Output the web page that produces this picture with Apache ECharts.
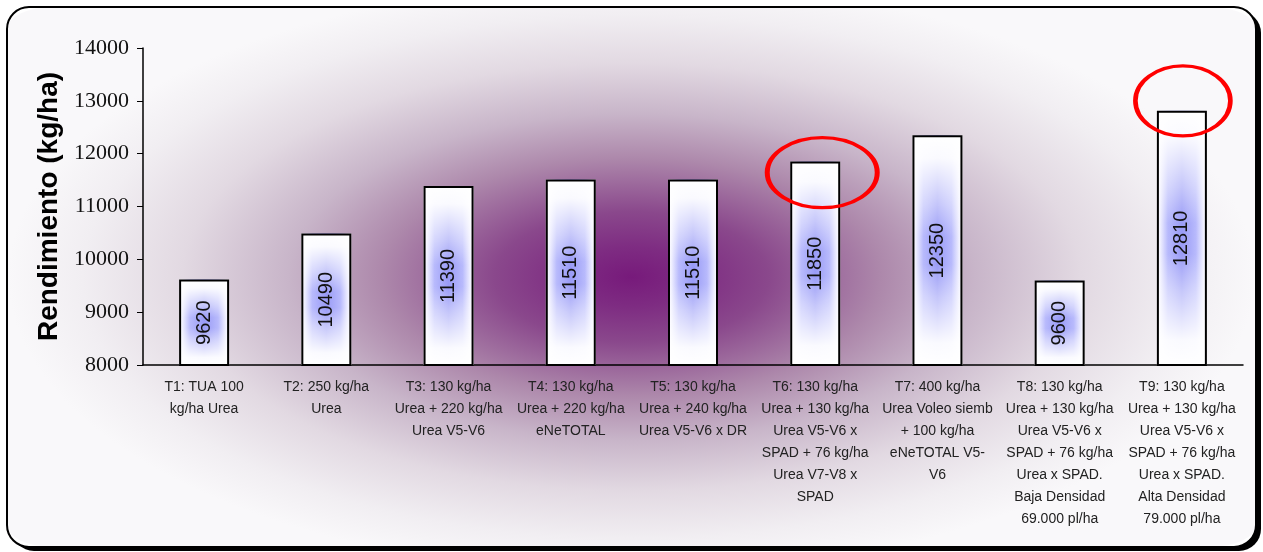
<!DOCTYPE html>
<html>
<head>
<meta charset="utf-8">
<title>Rendimiento por tratamiento</title>
<script src="https://cdn.jsdelivr.net/npm/echarts@6/dist/echarts.min.js"></script>
<style>
  html, body { margin: 0; padding: 0; background: #fff; }
  #chart { width: 1263px; height: 552px; }
</style>
</head>
<body>
<div id="chart"></div>
<script>
// treatments (x axis), one label line per row as in the original
const treatments = [
  'T1: TUA 100\nkg/ha Urea',
  'T2: 250 kg/ha\nUrea',
  'T3: 130 kg/ha\nUrea + 220 kg/ha\nUrea V5-V6',
  'T4: 130 kg/ha\nUrea + 220 kg/ha\neNeTOTAL',
  'T5: 130 kg/ha\nUrea + 240 kg/ha\nUrea V5-V6 x DR',
  'T6: 130 kg/ha\nUrea + 130 kg/ha\nUrea V5-V6 x\nSPAD + 76 kg/ha\nUrea V7-V8 x\nSPAD',
  'T7: 400 kg/ha\nUrea Voleo siemb\n+ 100 kg/ha\neNeTOTAL V5-\nV6',
  'T8: 130 kg/ha\nUrea + 130 kg/ha\nUrea V5-V6 x\nSPAD + 76 kg/ha\nUrea x SPAD.\nBaja Densidad\n69.000 pl/ha',
  'T9: 130 kg/ha\nUrea + 130 kg/ha\nUrea V5-V6 x\nSPAD + 76 kg/ha\nUrea x SPAD.\nAlta Densidad\n79.000 pl/ha'
]
const rendimiento = [9620, 10490, 11390, 11510, 11510, 11850, 12350, 9600, 12810]
const yMin = 8000
const yMax = 14000
const yStep = 1000
// treatments circled in red
const highlighted = [5, 8]

const sans = '"Liberation Sans", Arial, sans-serif'
const serif = '"Liberation Serif", "Times New Roman", serif'

// red ellipse look, per circled treatment
const ellipseStyle = {
  5: { size: [110, 70], offset: [7, 11] },
  8: { size: [95, 70], offset: [1, -10] }
}

const chart = echarts.init(document.getElementById('chart'), null, { renderer: 'canvas' })

const frame = { x: 7, y: 7, w: 1249, h: 540, r: 22 }
const stretch = 2.1 // makes the purple glow wider than tall

chart.setOption({
  animation: false,
  backgroundColor: '#fff',
  graphic: [
    {
      type: 'rect', z: -20, silent: true,
      shape: { x: frame.x + 5, y: frame.y + 4, width: frame.w, height: frame.h, r: frame.r },
      style: { fill: '#000' }
    },
    {
      type: 'rect', z: -19, silent: true,
      shape: { x: frame.x, y: frame.y, width: frame.w, height: frame.h, r: frame.r },
      style: { fill: '#fff' }
    },
    {
      type: 'rect', z: -18, silent: true,
      x: frame.x, y: frame.y, scaleX: stretch,
      shape: { x: 0, y: 0, width: frame.w / stretch, height: frame.h, r: frame.r },
      style: {
        fill: {
          type: 'radial', x: 0.5, y: 0.5, r: 0.55,
          colorStops: [
            { offset: 0, color: '#771a7b' },
            { offset: 0.1, color: '#7e2c82' },
            { offset: 0.22, color: '#8a488c' },
            { offset: 0.4, color: '#ad88ab' },
            { offset: 0.55, color: '#c8b5c9' },
            { offset: 0.72, color: '#e2d9e2' },
            { offset: 0.88, color: '#f1eef2' },
            { offset: 1, color: '#f9f8fa' }
          ]
        }
      }
    },
    {
      type: 'rect', z: -17, silent: true,
      shape: { x: frame.x, y: frame.y, width: frame.w, height: frame.h, r: frame.r },
      style: { fill: null, stroke: '#000', lineWidth: 2 }
    }
  ],
  grid: {
    left: 143,
    right: 20,
    top: 48,
    bottom: 187
  },
  xAxis: {
    type: 'category',
    data: treatments,
    axisLine: { lineStyle: { color: '#000', width: 1.5 } },
    axisTick: { length: 5, lineStyle: { color: '#000' } },
    axisLabel: {
      interval: 0,
      margin: 11,
      fontFamily: sans,
      fontSize: 14,
      lineHeight: 22,
      color: '#222'
    }
  },
  yAxis: {
    type: 'value',
    min: yMin,
    max: yMax,
    interval: yStep,
    name: 'Rendimiento (kg/ha)',
    nameLocation: 'middle',
    nameGap: 74,
    nameTextStyle: {
      fontFamily: sans,
      fontWeight: 'bold',
      fontSize: 28,
      color: '#000',
      padding: [0, 0, 0, 0]
    },
    axisLine: { show: true, lineStyle: { color: '#000', width: 1.5 } },
    axisTick: { show: true, length: 6, lineStyle: { color: '#000' } },
    axisLabel: {
      margin: 14,
      fontFamily: serif,
      fontSize: 22,
      color: '#111',
      formatter: v => String(v)
    },
    splitLine: { show: false }
  },
  series: [
    {
      // blue core of each bar, fading to white at the sides
      name: 'base',
      type: 'bar',
      barWidth: 50,
      barGap: '-100%',
      silent: true,
      data: rendimiento,
      itemStyle: {
        color: {
          type: 'linear', x: 0, y: 0, x2: 1, y2: 0,
          colorStops: [
            { offset: 0, color: '#ffffff' },
            { offset: 0.07, color: '#eeeeff' },
            { offset: 0.22, color: '#b4b6fc' },
            { offset: 0.5, color: '#9496f6' },
            { offset: 0.78, color: '#b4b6fc' },
            { offset: 0.93, color: '#eeeeff' },
            { offset: 1, color: '#ffffff' }
          ]
        }
      }
    },
    {
      // white towards top and bottom, carries border, value and red marks
      name: 'Rendimiento',
      type: 'bar',
      barWidth: 50,
      barGap: '-100%',
      silent: true,
      data: rendimiento,
      itemStyle: {
        borderColor: '#000',
        borderWidth: 2,
        color: {
          type: 'linear', x: 0, y: 0, x2: 0, y2: 1,
          colorStops: [
            { offset: 0, color: 'rgba(255,255,255,1)' },
            { offset: 0.1, color: 'rgba(255,255,255,0.95)' },
            { offset: 0.3, color: 'rgba(255,255,255,0.45)' },
            { offset: 0.44, color: 'rgba(255,255,255,0.05)' },
            { offset: 0.56, color: 'rgba(255,255,255,0.05)' },
            { offset: 0.7, color: 'rgba(255,255,255,0.45)' },
            { offset: 0.9, color: 'rgba(255,255,255,0.95)' },
            { offset: 1, color: 'rgba(255,255,255,1)' }
          ]
        }
      },
      label: {
        show: true,
        position: 'inside',
        rotate: 90,
        fontFamily: sans,
        fontSize: 20,
        color: '#111'
      },
      markPoint: {
        silent: true,
        symbol: 'circle',
        label: { show: false },
        itemStyle: {
          color: 'rgba(0,0,0,0)',
          borderColor: '#ff0000',
          borderWidth: 4
        },
        data: highlighted.map(i => ({
          coord: [i, rendimiento[i]],
          symbolSize: ellipseStyle[i].size,
          symbolOffset: ellipseStyle[i].offset
        }))
      }
    }
  ]
})
</script>
</body>
</html>
